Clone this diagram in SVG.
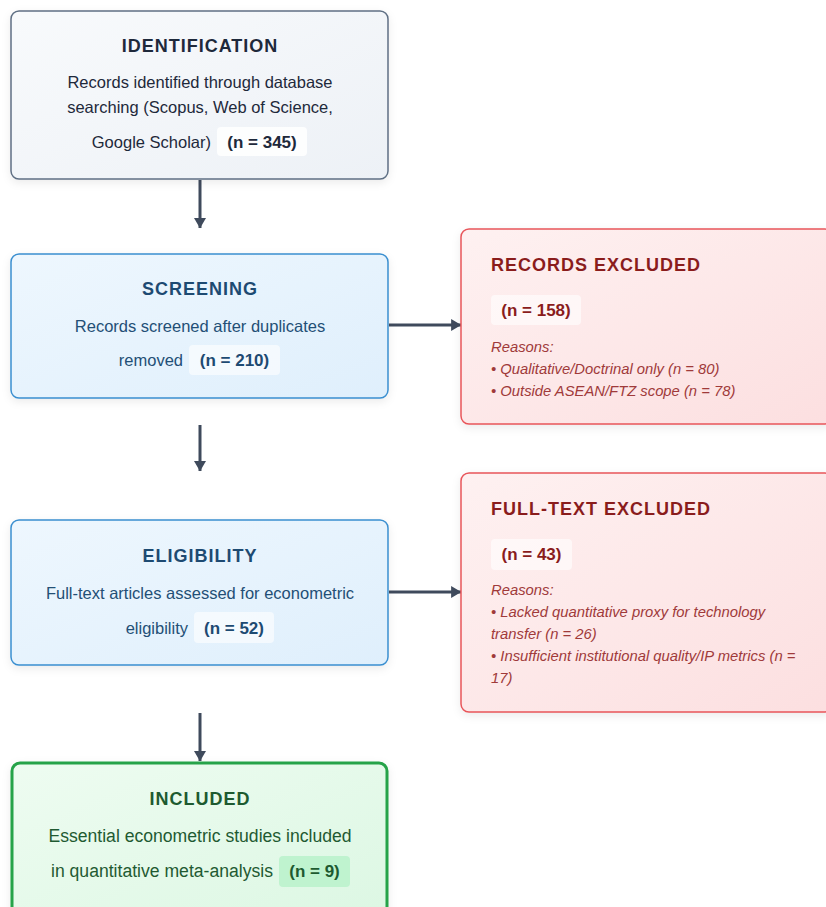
<svg xmlns="http://www.w3.org/2000/svg" width="826" height="907" viewBox="0 0 826 907">
  <defs>
    <linearGradient id="gGray" x1="0" y1="0" x2="1" y2="1">
      <stop offset="0" stop-color="#f8fafc"/>
      <stop offset="1" stop-color="#edf1f6"/>
    </linearGradient>
    <linearGradient id="gBlue" x1="0" y1="0" x2="1" y2="1">
      <stop offset="0" stop-color="#eef7fe"/>
      <stop offset="1" stop-color="#dfeffc"/>
    </linearGradient>
    <linearGradient id="gRed" x1="0" y1="0" x2="1" y2="1">
      <stop offset="0" stop-color="#fef1f1"/>
      <stop offset="1" stop-color="#fcdfe0"/>
    </linearGradient>
    <linearGradient id="gGreen" x1="0" y1="0" x2="1" y2="1">
      <stop offset="0" stop-color="#eefcf1"/>
      <stop offset="1" stop-color="#dcf7e3"/>
    </linearGradient>
    <filter id="shadow" x="-10%" y="-10%" width="120%" height="130%">
      <feDropShadow dx="0" dy="3" stdDeviation="4" flood-color="#000" flood-opacity="0.08"/>
    </filter>
    <marker id="arrow" markerWidth="4" markerHeight="4.2" refX="3.3" refY="2.1" orient="auto" markerUnits="strokeWidth">
      <path d="M0,0.1 L3.4,2.1 L0,4.1 Z" fill="#3f4a5c"/>
    </marker>
  </defs>
  <style>
    text { font-family: "Liberation Sans", Arial, Helvetica, sans-serif; }
    .title { font-size: 18px; font-weight: bold; letter-spacing: 1px; }
    .body { font-size: 16.5px; }
    .body-lg { font-size: 17.6px; }
    .badge { font-size: 17px; font-weight: bold; }
    .reason { font-size: 14.8px; font-style: italic; fill: #a03a3a; }
    .conn { stroke: #3f4a5c; stroke-width: 3; fill: none; marker-end: url(#arrow); }
  </style>

  <!-- connectors -->
  <g id="connectors">
    <line class="conn" x1="200" y1="180" x2="200" y2="228"/>
    <line class="conn" x1="200" y1="425" x2="200" y2="471"/>
    <line class="conn" x1="200" y1="713" x2="200" y2="761"/>
    <line class="conn" x1="389" y1="325" x2="461" y2="325"/>
    <line class="conn" x1="389" y1="592" x2="461" y2="592"/>
  </g>

  <!-- identification -->
  <g id="identification">
    <rect x="11" y="11" width="377" height="168" rx="8" fill="url(#gGray)" stroke="#5f6f84" stroke-width="1.5" filter="url(#shadow)"/>
    <text class="title" x="200" y="52" text-anchor="middle" fill="#1e293b">IDENTIFICATION</text>
    <text class="body" x="200" y="88" text-anchor="middle" fill="#1e293b">Records identified through database</text>
    <text class="body" x="200" y="113" text-anchor="middle" fill="#1e293b">searching (Scopus, Web of Science,</text>
    <text class="body" x="211" y="148" text-anchor="end" fill="#1e293b">Google Scholar)</text>
    <rect x="217" y="127" width="90" height="29" rx="4" fill="#ffffff" fill-opacity="0.85"/>
    <text class="badge" x="262" y="148" text-anchor="middle" fill="#1e293b">(n = 345)</text>
  </g>

  <!-- screening -->
  <g id="screening">
    <rect x="11" y="254" width="377" height="144" rx="8" fill="url(#gBlue)" stroke="#3a8fd0" stroke-width="1.5" filter="url(#shadow)"/>
    <text class="title" x="200" y="295" text-anchor="middle" fill="#1d4a72">SCREENING</text>
    <text class="body" x="200" y="332" text-anchor="middle" fill="#234f76">Records screened after duplicates</text>
    <text class="body" x="183" y="366" text-anchor="end" fill="#234f76">removed</text>
    <rect x="189" y="345" width="91" height="30" rx="4" fill="#ffffff" fill-opacity="0.6"/>
    <text class="badge" x="234.5" y="366" text-anchor="middle" fill="#1d4a72">(n = 210)</text>
  </g>

  <!-- records excluded -->
  <g id="records-excluded">
    <rect x="461" y="229" width="372" height="195" rx="8" fill="url(#gRed)" stroke="#e8555a" stroke-width="1.5" filter="url(#shadow)"/>
    <text class="title" x="491" y="271" fill="#8a1c1c">RECORDS EXCLUDED</text>
    <rect x="491" y="295" width="90" height="30" rx="4" fill="#ffffff" fill-opacity="0.6"/>
    <text class="badge" x="536" y="316" text-anchor="middle" fill="#8a1c1c">(n = 158)</text>
    <text class="reason" x="491" y="352">Reasons:</text>
    <text class="reason" x="491" y="374">• Qualitative/Doctrinal only (n = 80)</text>
    <text class="reason" x="491" y="396">• Outside ASEAN/FTZ scope (n = 78)</text>
  </g>

  <!-- eligibility -->
  <g id="eligibility">
    <rect x="11" y="520" width="377" height="145" rx="8" fill="url(#gBlue)" stroke="#3a8fd0" stroke-width="1.5" filter="url(#shadow)"/>
    <text class="title" x="200" y="562" text-anchor="middle" fill="#1d4a72">ELIGIBILITY</text>
    <text class="body" x="200" y="599" text-anchor="middle" fill="#234f76">Full-text articles assessed for econometric</text>
    <text class="body" x="188" y="634" text-anchor="end" fill="#234f76">eligibility</text>
    <rect x="194" y="612" width="80" height="31" rx="4" fill="#ffffff" fill-opacity="0.6"/>
    <text class="badge" x="234" y="634" text-anchor="middle" fill="#1d4a72">(n = 52)</text>
  </g>

  <!-- full-text excluded -->
  <g id="fulltext-excluded">
    <rect x="461" y="473" width="372" height="239" rx="8" fill="url(#gRed)" stroke="#e8555a" stroke-width="1.5" filter="url(#shadow)"/>
    <text class="title" x="491" y="515" fill="#8a1c1c">FULL-TEXT EXCLUDED</text>
    <rect x="491" y="539" width="81" height="31" rx="4" fill="#ffffff" fill-opacity="0.6"/>
    <text class="badge" x="531.5" y="560" text-anchor="middle" fill="#8a1c1c">(n = 43)</text>
    <text class="reason" x="491" y="595">Reasons:</text>
    <text class="reason" x="491" y="617">• Lacked quantitative proxy for technology</text>
    <text class="reason" x="491" y="639">transfer (n = 26)</text>
    <text class="reason" x="491" y="661">• Insufficient institutional quality/IP metrics (n =</text>
    <text class="reason" x="491" y="683">17)</text>
  </g>

  <!-- included -->
  <g id="included">
    <rect x="12" y="763" width="375" height="160" rx="8" fill="url(#gGreen)" stroke="#25a348" stroke-width="3" filter="url(#shadow)"/>
    <text class="title" x="200" y="805" text-anchor="middle" fill="#1d5a30">INCLUDED</text>
    <text class="body-lg" x="200" y="842" text-anchor="middle" fill="#1f5a32">Essential econometric studies included</text>
    <text class="body-lg" x="273" y="877" text-anchor="end" fill="#1f5a32">in quantitative meta-analysis</text>
    <rect x="279" y="856" width="71" height="31" rx="4" fill="#bff3cf"/>
    <text class="badge" x="314.5" y="877" text-anchor="middle" fill="#1d5a30">(n = 9)</text>
  </g>
</svg>
